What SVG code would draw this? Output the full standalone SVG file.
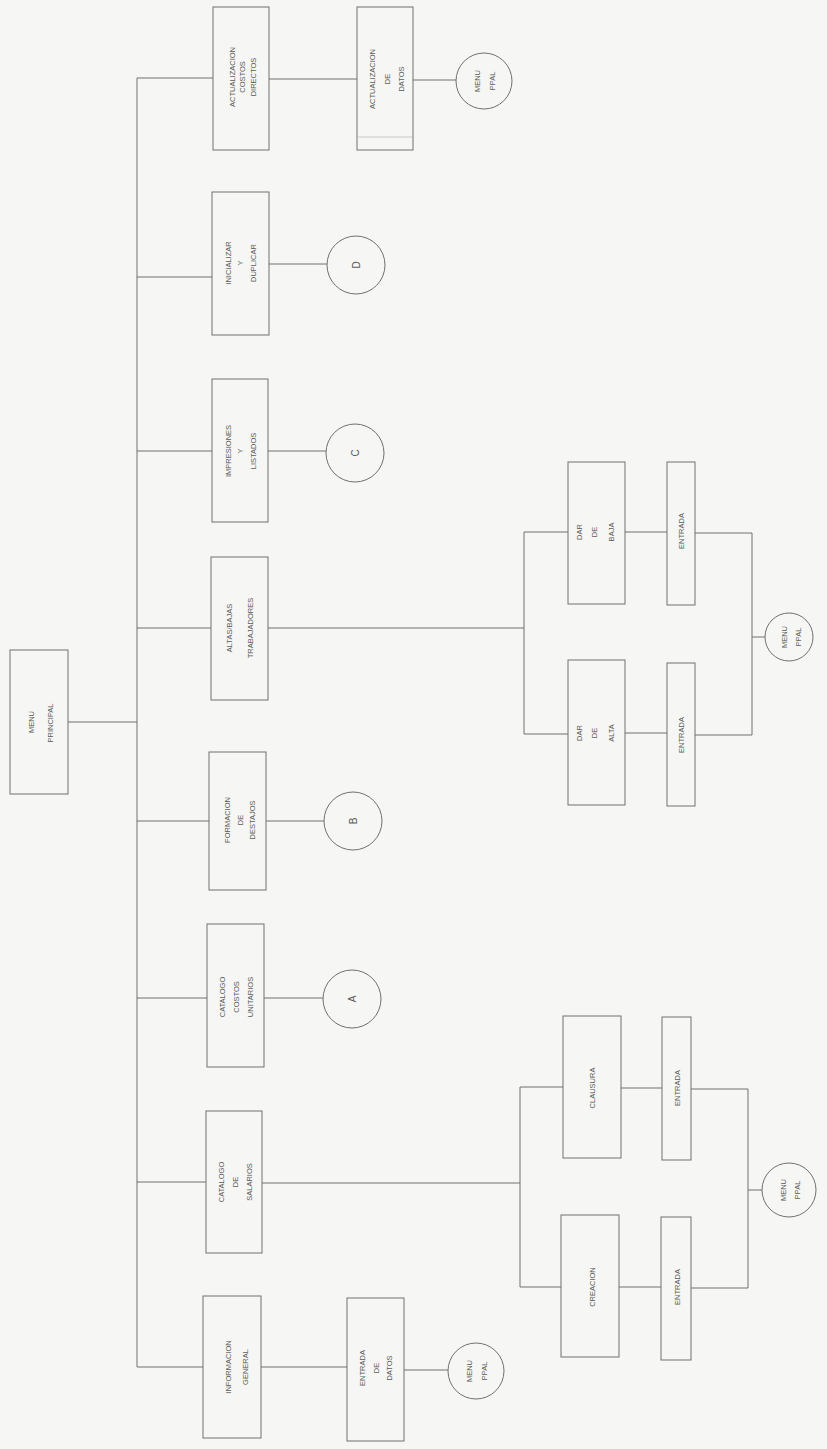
<svg xmlns="http://www.w3.org/2000/svg" width="827" height="1449" viewBox="0 0 827 1449">
<style>
.bg{fill:#f6f6f4}
.box{fill:none;stroke:#707070;stroke-width:1}
.circ{fill:none;stroke:#707070;stroke-width:1}
.ln{fill:none;stroke:#707070;stroke-width:1}
.faint{fill:none;stroke:#c8c8c8;stroke-width:1}
text{font-family:"Liberation Sans",Arial,sans-serif;font-size:7.5px;fill:#5a5a5a;text-anchor:middle}
.big{font-size:10px}
</style>
<rect class="bg" x="0" y="0" width="827" height="1449"/>
<g id="connectors">
<path class="ln" d="M68,722 H137 M137,78 V1367"/>
<path class="ln" d="M137,78 H213 M269,79 H357 M413,80 H456"/>
<path class="ln" d="M137,277 H212 M269,264 H327"/>
<path class="ln" d="M137,451 H212 M268,451 H326"/>
<path class="ln" d="M137,628 H211 M268,628 H524 M524,532 V734 M524,532 H568 M524,734 H568"/>
<path class="ln" d="M625,532 H667 M695,533 H752 M752,533 V735 M625,733 H667 M695,735 H752 M752,637 H765"/>
<path class="ln" d="M137,821 H209 M266,821 H324"/>
<path class="ln" d="M137,998 H207 M264,998 H323"/>
<path class="ln" d="M137,1182 H206 M262,1183 H520 M520,1087 V1287 M520,1087 H563 M520,1287 H561"/>
<path class="ln" d="M621,1088 H662 M691,1089 H748 M748,1089 V1288 M619,1287 H661 M691,1288 H748 M748,1190 H762"/>
<path class="ln" d="M137,1367 H203 M261,1367 H347 M404,1370 H448"/>
</g>
<g id="menu-principal">
<rect class="box" x="10" y="650" width="58" height="144"/>
<text transform="translate(31,722) rotate(-90)" y="3">MENU</text>
<text transform="translate(50,723) rotate(-90)" y="3">PRINCIPAL</text>
</g>
<g id="actualizacion-costos">
<rect class="box" x="213" y="7" width="56" height="143"/>
<text transform="translate(232,77) rotate(-90)" y="3">ACTUALIZACION</text>
<text transform="translate(242,77) rotate(-90)" y="3">COSTOS</text>
<text transform="translate(253,77) rotate(-90)" y="3">DIRECTOS</text>
</g>
<g id="actualizacion-datos">
<rect class="box" x="357" y="7" width="56" height="143"/>
<line class="faint" x1="358" y1="137" x2="412" y2="137"/>
<text transform="translate(372,79) rotate(-90)" y="3">ACTUALIZACION</text>
<text transform="translate(387,79) rotate(-90)" y="3">DE</text>
<text transform="translate(401,79) rotate(-90)" y="3">DATOS</text>
</g>
<g id="menu-ppal-1">
<circle class="circ" cx="484" cy="81" r="28"/>
<text transform="translate(477,81) rotate(-90)" y="3">MENU</text>
<text transform="translate(492,81) rotate(-90)" y="3">PPAL</text>
</g>
<g id="inicializar">
<rect class="box" x="212" y="192" width="57" height="143"/>
<text transform="translate(228,263) rotate(-90)" y="3">INICIALIZAR</text>
<text transform="translate(240,263) rotate(-90)" y="3">Y</text>
<text transform="translate(253,263) rotate(-90)" y="3">DUPLICAR</text>
</g>
<g id="circle-d">
<circle class="circ" cx="356" cy="265" r="29"/>
<text class="big" transform="translate(356,265) rotate(-90)" y="3.5">D</text>
</g>
<g id="impresiones">
<rect class="box" x="212" y="379" width="56" height="143"/>
<text transform="translate(228,451) rotate(-90)" y="3">IMPRESIONES</text>
<text transform="translate(240,451) rotate(-90)" y="3">Y</text>
<text transform="translate(253,451) rotate(-90)" y="3">LISTADOS</text>
</g>
<g id="circle-c">
<circle class="circ" cx="355" cy="453" r="29"/>
<text class="big" transform="translate(355,453) rotate(-90)" y="3.5">C</text>
</g>
<g id="altas-bajas">
<rect class="box" x="211" y="557" width="57" height="143"/>
<text transform="translate(229,628) rotate(-90)" y="3">ALTAS/BAJAS</text>
<text transform="translate(250,628) rotate(-90)" y="3">TRABAJADORES</text>
</g>
<g id="dar-de-baja">
<rect class="box" x="568" y="462" width="57" height="142"/>
<text transform="translate(579,532) rotate(-90)" y="3">DAR</text>
<text transform="translate(594,532) rotate(-90)" y="3">DE</text>
<text transform="translate(611,532) rotate(-90)" y="3">BAJA</text>
</g>
<g id="entrada-baja">
<rect class="box" x="667" y="462" width="28" height="143"/>
<text transform="translate(681,531) rotate(-90)" y="3">ENTRADA</text>
</g>
<g id="dar-de-alta">
<rect class="box" x="568" y="660" width="57" height="145"/>
<text transform="translate(579,733) rotate(-90)" y="3">DAR</text>
<text transform="translate(594,733) rotate(-90)" y="3">DE</text>
<text transform="translate(611,733) rotate(-90)" y="3">ALTA</text>
</g>
<g id="entrada-alta">
<rect class="box" x="667" y="663" width="28" height="143"/>
<text transform="translate(681,735) rotate(-90)" y="3">ENTRADA</text>
</g>
<g id="menu-ppal-2">
<circle class="circ" cx="789" cy="637" r="24"/>
<text transform="translate(784,637) rotate(-90)" y="3">MENU</text>
<text transform="translate(798,637) rotate(-90)" y="3">PPAL</text>
</g>
<g id="formacion">
<rect class="box" x="209" y="752" width="57" height="138"/>
<text transform="translate(227,820) rotate(-90)" y="3">FORMACION</text>
<text transform="translate(240,820) rotate(-90)" y="3">DE</text>
<text transform="translate(252,820) rotate(-90)" y="3">DESTAJOS</text>
</g>
<g id="circle-b">
<circle class="circ" cx="353" cy="821" r="29"/>
<text class="big" transform="translate(353,821) rotate(-90)" y="3.5">B</text>
</g>
<g id="catalogo-costos">
<rect class="box" x="207" y="924" width="57" height="143"/>
<text transform="translate(222,997) rotate(-90)" y="3">CATALOGO</text>
<text transform="translate(236,997) rotate(-90)" y="3">COSTOS</text>
<text transform="translate(250,997) rotate(-90)" y="3">UNITARIOS</text>
</g>
<g id="circle-a">
<circle class="circ" cx="352" cy="999" r="29"/>
<text class="big" transform="translate(352,999) rotate(-90)" y="3.5">A</text>
</g>
<g id="catalogo-salarios">
<rect class="box" x="206" y="1111" width="56" height="142"/>
<text transform="translate(221,1182) rotate(-90)" y="3">CATALOGO</text>
<text transform="translate(235,1182) rotate(-90)" y="3">DE</text>
<text transform="translate(249,1182) rotate(-90)" y="3">SALARIOS</text>
</g>
<g id="clausura">
<rect class="box" x="563" y="1016" width="58" height="142"/>
<text transform="translate(592,1088) rotate(-90)" y="3">CLAUSURA</text>
</g>
<g id="entrada-clausura">
<rect class="box" x="662" y="1017" width="29" height="143"/>
<text transform="translate(677,1088) rotate(-90)" y="3">ENTRADA</text>
</g>
<g id="creacion">
<rect class="box" x="561" y="1215" width="58" height="142"/>
<text transform="translate(592,1287) rotate(-90)" y="3">CREACION</text>
</g>
<g id="entrada-creacion">
<rect class="box" x="661" y="1217" width="30" height="143"/>
<text transform="translate(677,1287) rotate(-90)" y="3">ENTRADA</text>
</g>
<g id="menu-ppal-3">
<circle class="circ" cx="789" cy="1190" r="27"/>
<text transform="translate(783,1190) rotate(-90)" y="3">MENU</text>
<text transform="translate(797,1190) rotate(-90)" y="3">PPAL</text>
</g>
<g id="informacion-general">
<rect class="box" x="203" y="1296" width="58" height="142"/>
<text transform="translate(228,1367) rotate(-90)" y="3">INFORMACION</text>
<text transform="translate(245,1367) rotate(-90)" y="3">GENERAL</text>
</g>
<g id="entrada-de-datos">
<rect class="box" x="347" y="1298" width="57" height="143"/>
<text transform="translate(362,1368) rotate(-90)" y="3">ENTRADA</text>
<text transform="translate(376,1368) rotate(-90)" y="3">DE</text>
<text transform="translate(389,1368) rotate(-90)" y="3">DATOS</text>
</g>
<g id="menu-ppal-4">
<circle class="circ" cx="476" cy="1371" r="28"/>
<text transform="translate(469,1371) rotate(-90)" y="3">MENU</text>
<text transform="translate(484,1371) rotate(-90)" y="3">PPAL</text>
</g>
</svg>
